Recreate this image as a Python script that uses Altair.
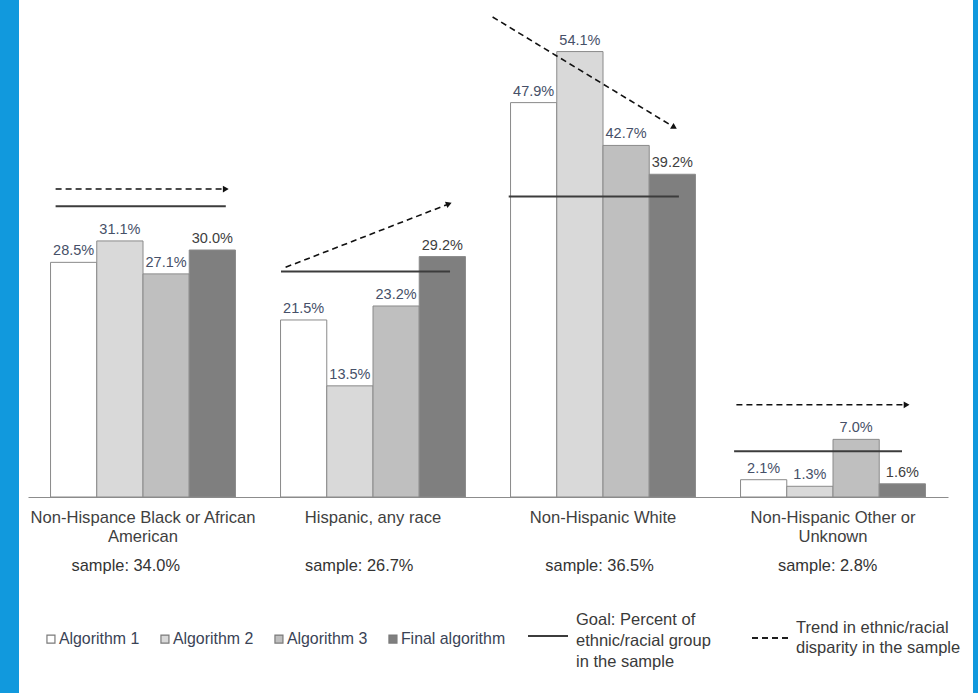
import math
import altair as alt
import pandas as pd

# ---------------- data ----------------
groups = [
    "Non-Hispance Black or African|American",
    "Hispanic, any race",
    "Non-Hispanic White",
    "Non-Hispanic Other or|Unknown",
]
samples = [34.0, 26.7, 36.5, 2.8]
# where each "sample:" note sits, in group units (group i spans i..i+1)
sample_x = [0.425, 1.44, 2.485, 3.477]
algorithms = ["Algorithm 1", "Algorithm 2", "Algorithm 3", "Final algorithm"]
alg1 = [28.5, 21.5, 47.9, 2.1]
alg2 = [31.1, 13.5, 54.1, 1.3]
alg3 = [27.1, 23.2, 42.7, 7.0]
final = [30.0, 29.2, 39.2, 1.6]

# goal lines (as drawn), x in group units
goal_y = [35.3, 27.4, 36.5, 5.55]
goal_x0 = [0.12, 1.10, 2.09, 3.07]
goal_x1 = [0.86, 1.835, 2.83, 3.80]

# trend arrows (as drawn)
trend_x0 = [0.12, 1.12, 2.02, 3.08]
trend_x1 = [0.86, 1.83, 2.81, 3.82]
trend_y0 = [37.4, 27.9, 58.3, 11.2]
trend_y1 = [37.4, 35.6, 44.9, 11.2]

legend_texts = [
    "Goal: Percent of\nethnic/racial group\nin the sample",
    "Trend in ethnic/racial\ndisparity in the sample",
]

# ---------------- layout constants ----------------
W, H = 920, 494
YMAX = 60
FONT = "Liberation Sans"
fills = ["#ffffff", "#d9d9d9", "#bfbfbf", "#7f7f7f"]

rows = []
for gi, g in enumerate(groups):
    for a, vals in zip(algorithms, [alg1, alg2, alg3, final]):
        rows.append({"group": g, "algorithm": a, "value": vals[gi],
                     "label": f"{vals[gi]:.1f}%"})
bars_df = pd.DataFrame(rows)

samp_df = pd.DataFrame({"x": sample_x,
                        "text": [f"sample: {s:.1f}%" for s in samples]})

goal_df = pd.DataFrame({"x0": goal_x0, "x1": goal_x1, "y": goal_y})

px_x = W / 4.0
px_y = H / YMAX
angles = []
for x0, x1, y0, y1 in zip(trend_x0, trend_x1, trend_y0, trend_y1):
    dx = (x1 - x0) * px_x
    dy = -(y1 - y0) * px_y
    angles.append(math.degrees(math.atan2(dy, dx)) % 360)
trend_df = pd.DataFrame({"x0": trend_x0, "x1": trend_x1,
                         "y0": trend_y0, "y1": trend_y1, "angle": angles})

xband = alt.Scale(domain=groups, paddingInner=0.196, paddingOuter=0.098)
yscale = alt.Scale(domain=[0, YMAX], nice=False, zero=True)
xq = alt.Scale(domain=[0, 4], nice=False, zero=False)

base = alt.Chart(bars_df)

bars = base.mark_bar(stroke="#8a8a8a", strokeWidth=1).encode(
    x=alt.X("group:N", scale=xband, sort=groups, title=None,
            axis=alt.Axis(labelExpr="split(datum.label, '|')",
                          labelAngle=0, ticks=False, tickSize=0,
                          labelPadding=12, labelFontSize=16.6,
                          labelFont=FONT, labelColor="#3f3f3f",
                          labelLineHeight=19, domainColor="#8c8c8c",
                          grid=False, labelLimit=400)),
    xOffset=alt.XOffset("algorithm:N", sort=algorithms,
                        scale=alt.Scale(paddingInner=0, paddingOuter=0)),
    y=alt.Y("value:Q", scale=yscale, axis=None),
    fill=alt.Fill("algorithm:N", sort=algorithms,
                  scale=alt.Scale(domain=algorithms, range=fills),
                  legend=alt.Legend(orient="none", legendX=15, legendY=628,
                                    direction="horizontal", title=None,
                                    symbolType="square", symbolSize=64,
                                    symbolStrokeColor="#7a7a7a",
                                    symbolStrokeWidth=1.2,
                                    labelFontSize=15.9, labelFont=FONT,
                                    labelColor="#3a4356", labelOffset=0,
                                    columnPadding=17)),
)

labels = base.mark_text(baseline="bottom", dy=-4, fontSize=14.5,
                        font=FONT).encode(
    x=alt.X("group:N", scale=xband, sort=groups),
    xOffset=alt.XOffset("algorithm:N", sort=algorithms,
                        scale=alt.Scale(paddingInner=0, paddingOuter=0)),
    y=alt.Y("value:Q", scale=yscale),
    text="label:N",
    color=alt.condition("datum.algorithm == 'Final algorithm'",
                        alt.value("#404040"), alt.value("#465068")),
)

samp = alt.Chart(samp_df).mark_text(fontSize=16.4, font=FONT,
                                    color="#333333", baseline="middle").encode(
    x=alt.X("x:Q", scale=xq, axis=None),
    y=alt.value(563),
    text="text:N",
)

goal = alt.Chart(goal_df).mark_rule(color="#3c3c3c", strokeWidth=2).encode(
    x=alt.X("x0:Q", scale=xq, axis=None),
    x2="x1:Q",
    y=alt.Y("y:Q", scale=yscale),
)

trend = alt.Chart(trend_df).mark_rule(color="#111111", strokeWidth=1.6,
                                      strokeDash=[6, 4]).encode(
    x=alt.X("x0:Q", scale=xq, axis=None),
    x2="x1:Q",
    y=alt.Y("y0:Q", scale=yscale),
    y2="y1:Q",
)

heads = alt.Chart(trend_df).mark_point(shape="triangle-right", filled=True,
                                       color="#111111", size=45,
                                       opacity=1).encode(
    x=alt.X("x1:Q", scale=xq, axis=None),
    y=alt.Y("y1:Q", scale=yscale),
    angle=alt.Angle("angle:Q", scale=None),
)

# legend for goal / trend lines
leg_df = pd.DataFrame({"text": legend_texts})
leg_goal_line = alt.Chart(leg_df).mark_rule(color="#3c3c3c", strokeWidth=2).encode(
    x=alt.value(500), x2=alt.value(540), y=alt.value(633))
leg_trend_line = alt.Chart(leg_df).mark_rule(color="#111111", strokeWidth=1.6,
                                             strokeDash=[6, 4]).encode(
    x=alt.value(724), x2=alt.value(762), y=alt.value(635))
leg_goal_text = alt.Chart(leg_df).transform_filter(
    "indexof(datum.text, 'Goal') == 0").mark_text(
    align="left", baseline="middle", fontSize=16.5, font=FONT,
    color="#3a3a3a", lineBreak="\n", lineHeight=21).encode(
    x=alt.value(548), y=alt.value(617), text="text:N")
leg_trend_text = alt.Chart(leg_df).transform_filter(
    "indexof(datum.text, 'Trend') == 0").mark_text(
    align="left", baseline="middle", fontSize=16.5, font=FONT,
    color="#3a3a3a", lineBreak="\n", lineHeight=20).encode(
    x=alt.value(768), y=alt.value(625), text="text:N")

# blue page borders
border_df = pd.DataFrame({"side": ["left", "right"]})
border_l = alt.Chart(border_df).transform_filter("datum.side == 'left'").mark_rect(
    color="#1199dd").encode(x=alt.value(-28), x2=alt.value(-9),
                            y=alt.value(-3), y2=alt.value(690))
border_r = alt.Chart(border_df).transform_filter("datum.side == 'right'").mark_rect(
    color="#1199dd").encode(x=alt.value(945), x2=alt.value(950),
                            y=alt.value(-3), y2=alt.value(690))

band_layer = alt.layer(bars, labels)
line_layer = alt.layer(samp, goal, trend, heads, leg_goal_line, leg_trend_line,
                       leg_goal_text, leg_trend_text, border_l, border_r)

chart = alt.layer(band_layer, line_layer).resolve_scale(
    x="independent"
).properties(
    width=W, height=H,
    autosize=alt.AutoSizeParams(type="none"),
    padding={"left": 28, "top": 3, "right": 30, "bottom": 196},
    background="white",
).configure_view(stroke=None)

chart.save("out.html", embed_options={"renderer": "svg", "actions": False})
